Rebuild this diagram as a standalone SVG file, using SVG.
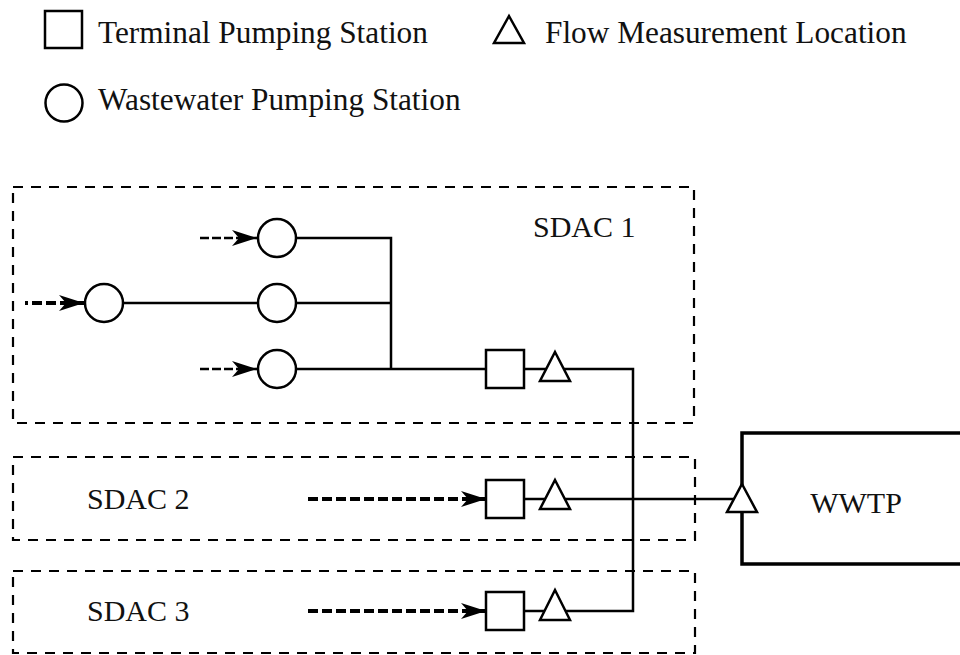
<svg xmlns="http://www.w3.org/2000/svg" width="960" height="655" viewBox="0 0 960 655">
<defs>
<style>
text{font-family:"Liberation Serif","Times New Roman",serif;font-size:30px;fill:#111}
.legend-text{font-size:31.3px}
.node{fill:#fff;stroke:#000;stroke-width:2.5}
.pipe{fill:none;stroke:#000;stroke-width:2.5}
.zone{fill:none;stroke:#000;stroke-width:2.2;stroke-dasharray:10 8}
.thick{fill:none;stroke:#000;stroke-width:4.2;stroke-dasharray:10 4}
.thin{fill:none;stroke:#000;stroke-width:2.6;stroke-dasharray:9 3}
.plant{fill:none;stroke:#000;stroke-width:3.5}
</style>
<marker id="head" viewBox="-27 -9 28 18" refX="0" refY="0" markerWidth="28" markerHeight="18" markerUnits="userSpaceOnUse" orient="auto-start-reverse">
<path d="M0,0 L-25,-8 L-18,0 L-25,8 Z" fill="#000"/>
</marker>
</defs>

<g id="legend">
<rect class="node" x="45" y="11" width="37" height="37"/>
<text class="legend-text" x="98" y="43">Terminal Pumping Station</text>
<path class="node" d="M509,16 L524,43 L494,43 Z"/>
<text class="legend-text" x="545" y="43">Flow Measurement Location</text>
<circle class="node" cx="64" cy="103" r="18.5"/>
<text class="legend-text" x="98" y="110">Wastewater Pumping Station</text>
</g>

<g id="zones">
<rect id="sdac1" class="zone" x="13" y="187" width="681" height="236"/>
<rect id="sdac2" class="zone" x="13" y="457" width="682" height="83"/>
<rect id="sdac3" class="zone" x="13" y="571" width="682" height="82"/>
<text x="533" y="237">SDAC 1</text>
<text x="87" y="509">SDAC 2</text>
<text x="87" y="621">SDAC 3</text>
</g>

<g id="connectors">
<path class="pipe" d="M123,303 H258"/>
<path class="pipe" d="M296,238 H391 V369"/>
<path class="pipe" d="M296,303 H391"/>
<path class="pipe" d="M296,369 H486"/>
<path class="pipe" d="M524,369 H633 V611 H524"/>
<path class="pipe" d="M524,499 H742"/>
<path class="thick" d="M84,303 H25" marker-start="url(#head)"/>
<path class="thin" d="M257,238 H197" marker-start="url(#head)"/>
<path class="thin" d="M257,369 H198" marker-start="url(#head)"/>
<path class="thick" d="M486,499 H307" marker-start="url(#head)"/>
<path class="thick" d="M486,611 H307" marker-start="url(#head)"/>
</g>

<g id="wps1"><circle class="node" cx="104" cy="303" r="19"/></g>
<g id="wps2"><circle class="node" cx="277" cy="238" r="19"/></g>
<g id="wps3"><circle class="node" cx="277" cy="303" r="19"/></g>
<g id="wps4"><circle class="node" cx="277" cy="369" r="19"/></g>

<g id="tps1"><rect class="node" x="486" y="350" width="38" height="38"/></g>
<g id="flow1"><path class="node" d="M555,352 L570,381 L540,381 Z"/></g>
<g id="tps2"><rect class="node" x="486" y="480" width="38" height="38"/></g>
<g id="flow2"><path class="node" d="M555,480 L570,509 L540,509 Z"/></g>
<g id="tps3"><rect class="node" x="486" y="592" width="38" height="38"/></g>
<g id="flow3"><path class="node" d="M555,590 L570,620 L540,620 Z"/></g>

<g id="wwtp">
<path class="plant" d="M965,433 H742 V564 H965"/>
<path class="node" d="M742,484 L757,512 L727,512 Z"/>
<text x="856" y="513" text-anchor="middle">WWTP</text>
</g>
</svg>
